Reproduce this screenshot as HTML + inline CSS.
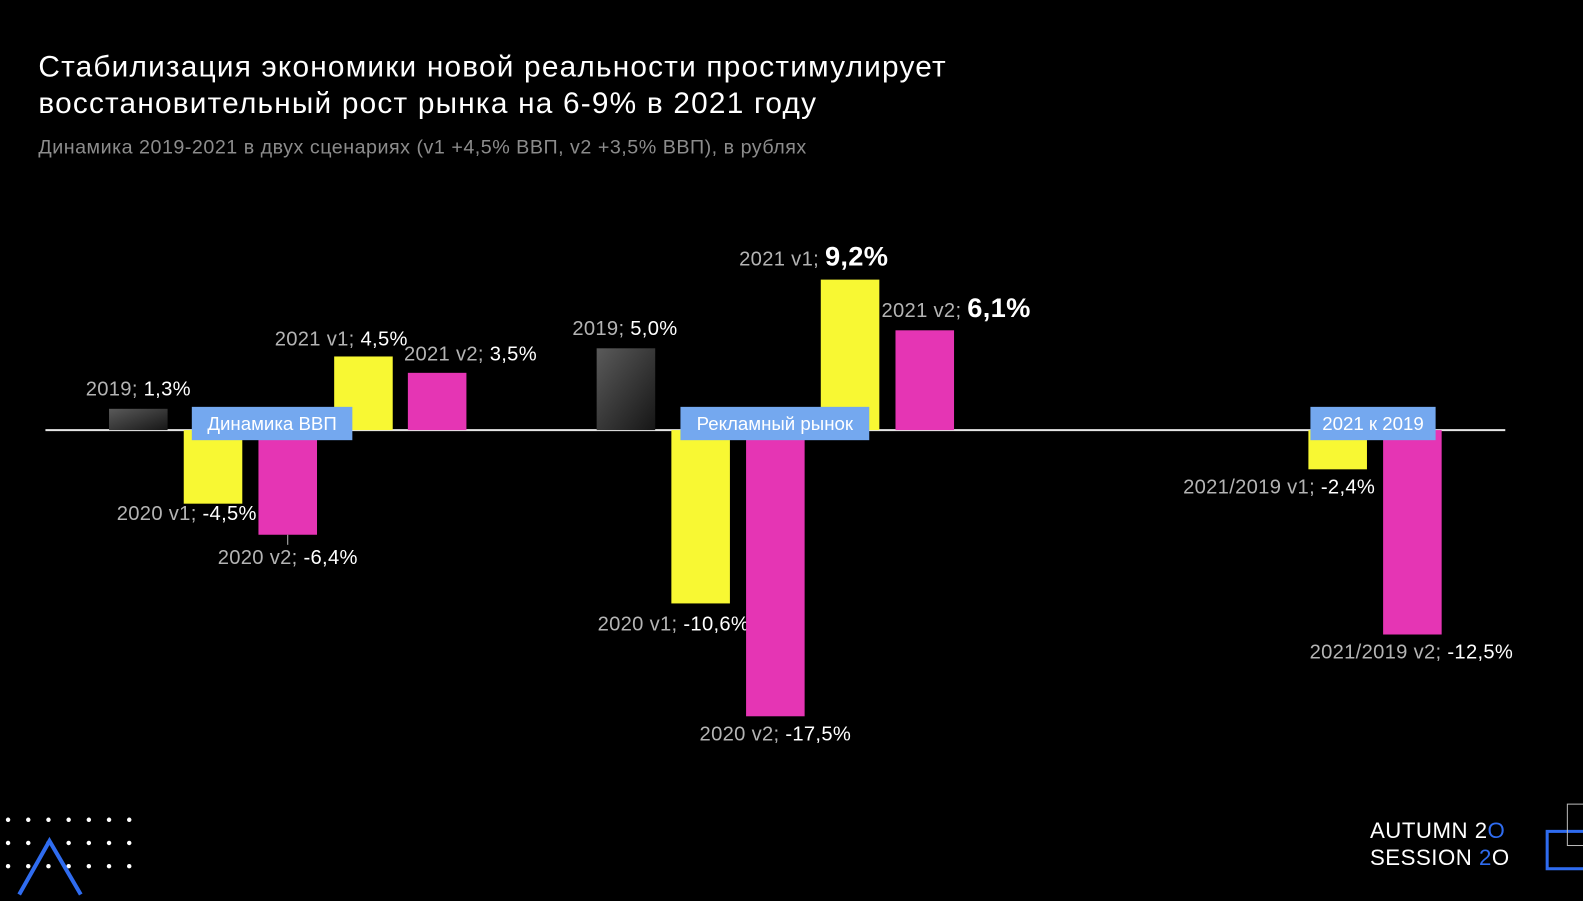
<!DOCTYPE html>
<html><head><meta charset="utf-8">
<style>
html,body{margin:0;padding:0;background:#000;}
body{width:1583px;height:900px;overflow:hidden;position:relative;font-family:"Liberation Sans","Noto Sans CJK SC",sans-serif;}
#wrap{position:absolute;left:0;top:0;width:1568px;height:892px;transform:scale(1.00957);transform-origin:0 0;}
.title{position:absolute;left:38px;top:49px;color:#fff;font-size:29.5px;line-height:36px;font-weight:500;letter-spacing:1.2px;white-space:nowrap;}
.sub{position:absolute;left:38px;top:135px;color:#8c8c8c;font-size:19.5px;letter-spacing:0.5px;white-space:nowrap;}
svg{position:absolute;left:0;top:0;}
</style></head>
<body>
<div id="wrap">
<div class="title">Стабилизация экономики новой реальности простимулирует<br>восстановительный рост рынка на 6-9% в 2021 году</div>
<div class="sub">Динамика 2019-2021 в двух сценариях (v1 +4,5% ВВП, v2 +3,5% ВВП), в рублях</div>
<svg id="chart" width="1568" height="892">
<defs>
<linearGradient id="gray" x1="0" y1="0" x2="1" y2="1">
<stop offset="0" stop-color="#5a5a5a"/><stop offset="1" stop-color="#161616"/>
</linearGradient>
</defs>
</svg>
<div style="position:absolute;left:1357px;top:809px;color:#fff;font-size:22px;line-height:27px;letter-spacing:0.5px;">
AUTUMN 2<span style="color:#2f6cf0">O</span><br>SESSION <span style="color:#2f6cf0">2</span>O</div>
<div style="position:absolute;left:1531px;top:822px;width:60px;height:34px;border:3px solid #2f6cf0;"></div>
<div style="position:absolute;left:1552px;top:796px;width:30px;height:40px;border:1px solid #bbb;"></div>
</div>
<script>
const categories=["2019","2020 v1","2020 v2","2021 v1","2021 v2","2019","2020 v1","2020 v2","2021 v1","2021 v2","2021/2019 v1","2021/2019 v2"];
const values=[1.3,-4.5,-6.4,4.5,3.5,5.0,-10.6,-17.5,9.2,6.1,-2.4,-12.5];
const valueLabels=["1,3%","-4,5%","-6,4%","4,5%","3,5%","5,0%","-10,6%","-17,5%","9,2%","6,1%","-2,4%","-12,5%"];
const series=["gray","yellow","magenta","yellow","magenta","gray","yellow","magenta","yellow","magenta","yellow","magenta"];
const groupNames=["Динамика ВВП","Рекламный рынок","2021 к 2019"];

const svg=document.getElementById('chart');
const NS='http://www.w3.org/2000/svg';
const zeroY=426, pxPer=16.2;
function y(v){return zeroY-v*pxPer;}
const barX=[108,182,256,331,404,591,665,739,813,887,1296,1370];
const bw=58;
const colors={gray:'url(#gray)',yellow:'#f8f833',magenta:'#e535b4'};
const lay=[[0,-13,0],[-26,16,0],[0,29,0],[-22,-11,0],[33,-12,0],[-1,-13,0],[-27,27,0],[0,24,0],[-36,-14,1],[31,-13,1],[-58,24,0],[-1,24,0]];

function el(t,a){const e=document.createElementNS(NS,t);for(const k in a)e.setAttribute(k,a[k]);svg.appendChild(e);return e;}

const axis=el('line',{x1:45,x2:1491,y1:zeroY,y2:zeroY,stroke:'#e6e6e6','stroke-width':2});



values.forEach((v,i)=>{
  const top=Math.min(y(v),zeroY), h=Math.abs(y(v)-zeroY);
  const r=el('rect',{x:barX[i],y:top,width:bw,height:h,fill:colors[series[i]]});
  
  
  const cx=barX[i]+bw/2+lay[i][0];
  const end=y(v);
  const ty=end+lay[i][1];
  if(i===2){const l=el('line',{x1:barX[i]+bw/2,x2:barX[i]+bw/2,y1:end,y2:end+10,stroke:'#bbb','stroke-width':1});
    }
  const t=el('text',{x:cx,y:ty,'text-anchor':'middle','font-size':20,fill:'#b4b4b4','font-family':'Liberation Sans, sans-serif','letter-spacing':0.3});
  
  
  const s1=document.createElementNS(NS,'tspan');s1.textContent=categories[i]+'; ';t.appendChild(s1);
  const s2=document.createElementNS(NS,'tspan');s2.textContent=valueLabels[i];s2.setAttribute('fill','#fff');
  if(lay[i][2]){s2.setAttribute('font-size','27');s2.setAttribute('font-weight','bold');}
  t.appendChild(s2);
});

const boxes=[[190,159],[674,187],[1298,124]];
boxes.forEach((b,i)=>{
  const r=el('rect',{x:b[0],y:403,width:b[1],height:33,fill:'#74a8ef'});
  
  
  const t=el('text',{x:b[0]+b[1]/2,y:426,'text-anchor':'middle','font-size':18.5,fill:'#fff','font-family':'Liberation Sans, sans-serif'});
  t.textContent=groupNames[i];
  
  
});

for(let rr=0;rr<3;rr++)for(let c=0;c<7;c++){
  const d=el('circle',{cx:8+c*20,cy:812+rr*23,r:2.2,fill:'#fff'});
  
  
}
const tri=el('polyline',{points:'19,886 49,833 80,886',fill:'none',stroke:'#2f6cf0','stroke-width':4});


</script>
</body></html>
